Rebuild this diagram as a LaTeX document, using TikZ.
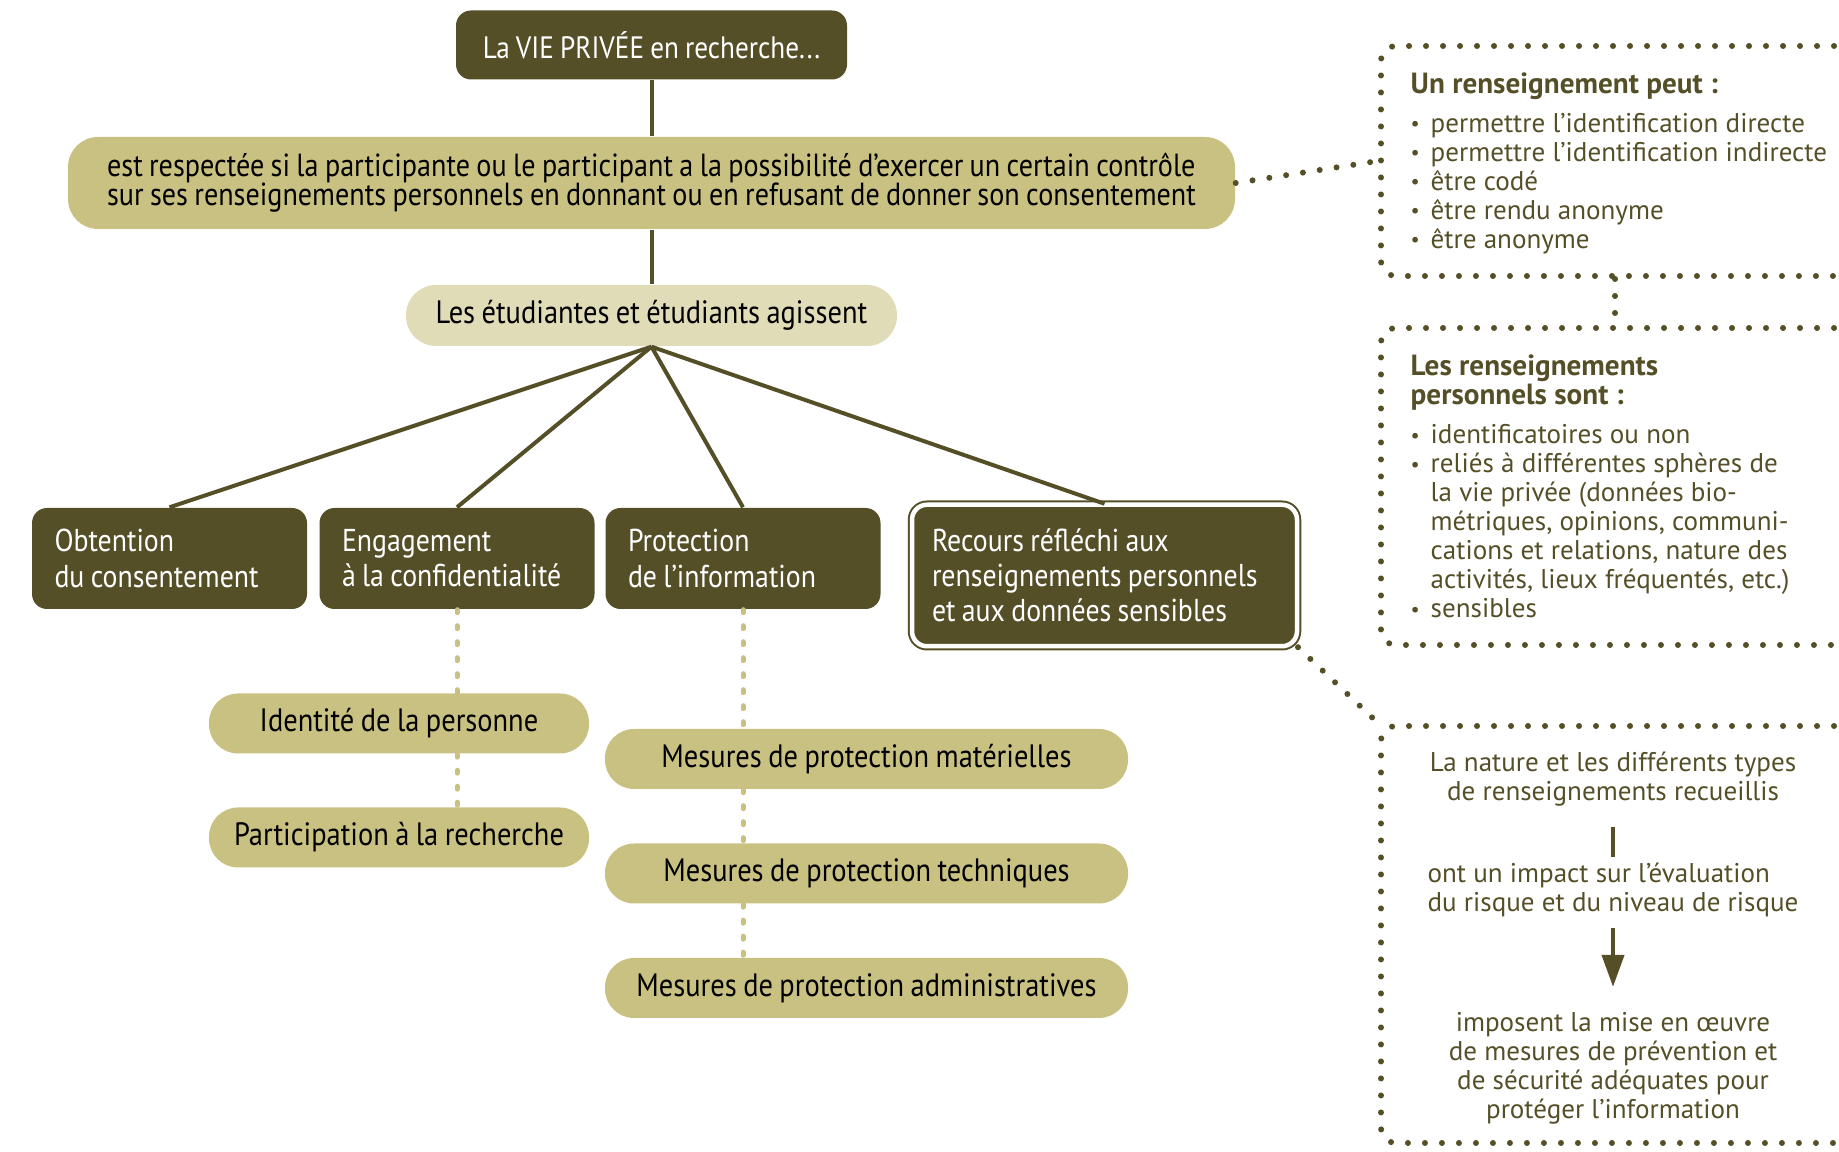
\documentclass[tikz,border=0pt]{standalone}
\usepackage{fontspec}
\usepackage{graphicx}
\setmainfont{PT Sans}
\newfontfamily\condfont[FakeStretch=0.88,WordSpace=0.85]{PT Sans}
\usepackage{tikz}
\usetikzlibrary{positioning,arrows.meta}

\definecolor{olivedark}{RGB}{85,79,40}
\definecolor{olivemid}{RGB}{201,193,129}
\definecolor{olivelight}{RGB}{224,220,183}

\newcommand{\bul}{\makebox[0.2cm][l]{\raisebox{0.12ex}{\scalebox{0.75}{\textbullet}}}}
\newcommand{\ind}{\hspace*{0.2cm}}

\begin{document}
\begin{tikzpicture}[>=latex,scale=1.0,
  darkbox/.style={fill=olivedark,text=white,rounded corners=0.15cm,
    minimum height=1.01cm,text width=2.3cm,inner xsep=0.225cm,align=flush left,
    font=\condfont\fontsize{9}{10}\selectfont},
  pillbox/.style={fill=olivemid,rounded corners=0.29cm,minimum height=0.6cm,
    font=\condfont\fontsize{9.2}{10}\selectfont},
  link/.style={draw=olivedark,line width=0.04cm},
  dotline/.style={draw=olivedark,line width=0.06cm,line cap=round,
    dash pattern=on 0pt off 0.17cm},
  dotbox/.style={dotline,rounded corners=0.15cm,anchor=north west,
    minimum width=4.68cm},
  lightdots/.style={draw=olivemid,line width=0.05cm,line cap=round,
    dash pattern=on 0.03cm off 0.13cm},
  sidetext/.style={text=olivedark,inner sep=0pt,
    font=\fontsize{7.7}{8.25}\selectfont},
  ]
  \useasboundingbox (0,0) rectangle (18.39,11.52);

  % top of the tree
  \node[fill=olivedark,text=white,rounded corners=0.15cm,minimum width=3.91cm,
    minimum height=0.69cm,font=\condfont\fontsize{8.8}{9}\selectfont] (vie) at (6.515,11.07)
    {La VIE PRIVÉE en recherche...};
  \node[fill=olivemid,rounded corners=0.3cm,minimum width=11.67cm,minimum height=0.92cm,
    align=left,font=\condfont\fontsize{9.1}{8.3}\selectfont] (respect) at (6.515,9.69)
    {est respectée si la participante ou le participant a la possibilité d’exercer un certain contrôle\\
     sur ses renseignements personnels en donnant ou en refusant de donner son consentement};
  \node[fill=olivelight,rounded corners=0.3cm,minimum width=4.91cm,minimum height=0.61cm,
    font=\condfont\fontsize{9.2}{10}\selectfont] (etud) at (6.515,8.365)
    {Les étudiantes et étudiants agissent};
  \draw[link] (vie.south) -- (respect.north);
  \draw[link] (respect.south) -- (etud.north);

  % the four actions
  \node[darkbox,minimum width=2.75cm] (obt) at (1.695,5.935) {Obtention\\du consentement};
  \node[darkbox,minimum width=2.75cm] (eng) at (4.57,5.935) {Engagement\\à la confidentialité};
  \node[darkbox,minimum width=2.75cm] (prot) at (7.43,5.935) {Protection\\de l’information};
  \node[darkbox,text width=3.45cm,inner xsep=0.2cm,minimum height=1.415cm,draw=olivedark,
    line width=0.02cm,double=white,double distance=0.045cm] (recours) at (11.045,5.765)
    {Recours réfléchi aux\\renseignements personnels\\et aux données sensibles};
  \foreach \n in {obt,eng,prot,recours}
    \draw[link] (etud.south) -- (\n.north);

  % what each action covers
  \node[pillbox,minimum width=3.80cm] (ident) at (3.99,4.285) {Identité de la personne};
  \node[pillbox,minimum width=3.80cm] (partic) at (3.99,3.145) {Participation à la recherche};
  \node[pillbox,minimum width=5.23cm] (mat) at (8.665,3.93) {Mesures de protection matérielles};
  \node[pillbox,minimum width=5.23cm] (tech) at (8.665,2.785) {Mesures de protection techniques};
  \node[pillbox,minimum width=5.23cm] (admin) at (8.665,1.64) {Mesures de protection administratives};
  \draw[lightdots] (eng.south) -- (eng.south |- ident.north);
  \draw[lightdots] (ident.south -| eng.south) -- (partic.north -| eng.south);
  \draw[lightdots] (prot.south) -- (prot.south |- mat.north);
  \draw[lightdots] (mat.south -| prot.south) -- (tech.north -| prot.south);
  \draw[lightdots] (tech.south -| prot.south) -- (admin.north -| prot.south);

  % side notes
  \node[dotbox,minimum height=2.30cm] (peut) at (13.78,11.09) {};
  \node[dotbox,minimum height=3.17cm] (sont) at (13.78,8.27) {};
  \node[dotbox,minimum height=4.17cm] (risque) at (13.78,4.29) {};
  \draw[dotline] (respect.east) -- (peut.west);
  \draw[dotline] (peut.south) -- (sont.north);
  \draw[dotline] (recours.south east) -- (risque.north west);

  \node[sidetext,anchor=west,align=left] (peuttxt) at ([xshift=0.32cm,yshift=-0.02cm]peut.west)
    {{\fontsize{8.3}{8.25}\selectfont\bfseries Un renseignement peut :}\\[0.1cm]
     \bul permettre l’identification directe\\
     \bul permettre l’identification indirecte\\
     \bul être codé\\
     \bul être rendu anonyme\\
     \bul être anonyme};
  \node[sidetext,anchor=west,align=left] (sonttxt) at ([xshift=0.32cm]sont.west)
    {{\fontsize{8.3}{8.25}\selectfont\bfseries Les renseignements}\\
     {\fontsize{8.3}{8.25}\selectfont\bfseries personnels sont :}\\[0.1cm]
     \bul identificatoires ou non\\
     \bul reliés à différentes sphères de\\
     \ind la vie privée (données bio-\\
     \ind métriques, opinions, communi-\\
     \ind cations et relations, nature des\\
     \ind activités, lieux fréquentés, etc.)\\
     \bul sensibles};

  \node[sidetext,align=center] (nature) at (16.13,3.725)
    {La nature et les différents types\\de renseignements recueillis};
  \node[sidetext,align=left] (impact) at (16.13,2.62)
    {ont un impact sur l’évaluation\\du risque et du niveau de risque};
  \node[sidetext,align=center] (impose) at (16.13,0.835)
    {imposent la mise en œuvre\\de mesures de prévention et\\de sécurité adéquates pour\\protéger l’information};
  \draw[link,shorten <=0.2cm,shorten >=0.05cm] (nature.south) -- (impact.north);
  \draw[link,shorten <=0.1cm,shorten >=0.25cm,-{Triangle[width=0.22cm,length=0.32cm]}]
    (impact.south) -- (impose.north);

\end{tikzpicture}
\end{document}
